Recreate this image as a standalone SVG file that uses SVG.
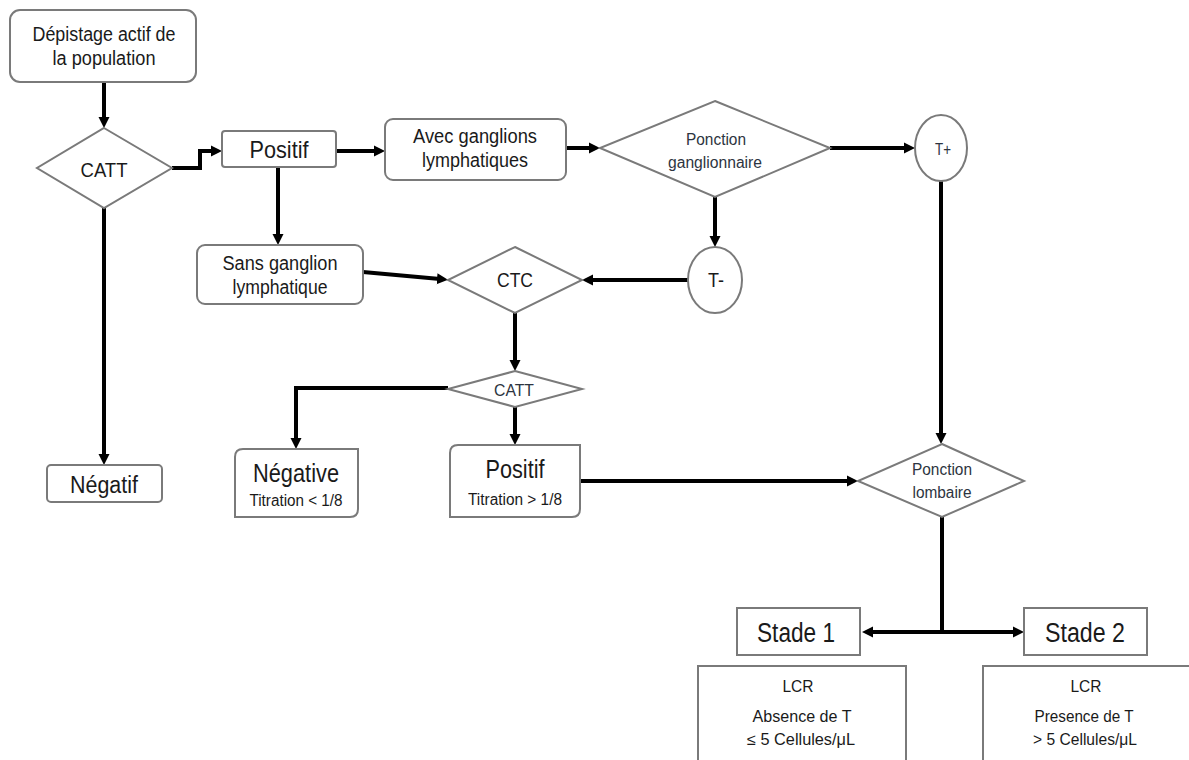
<svg xmlns="http://www.w3.org/2000/svg" width="1189" height="760" viewBox="0 0 1189 760">
<style>
.box{fill:#fff;stroke:#7a7a7a;stroke-width:2}
.t{font-family:"Liberation Sans",Arial,sans-serif;fill:#1a1a1a;text-anchor:middle}
.tb{font-family:"Liberation Sans",Arial,sans-serif;fill:#2d3440;text-anchor:middle}
.c{fill:none;stroke:#000;stroke-width:4}
.ca{fill:none;stroke:#000;stroke-width:4;marker-end:url(#ah)}
</style>
<defs>
<marker id="ah" markerUnits="userSpaceOnUse" markerWidth="12" markerHeight="12" refX="3" refY="6" orient="auto">
<path d="M0,0.5 L11,6 L0,11.5 z" fill="#000"/>
</marker>
</defs>
<rect width="1189" height="760" fill="#fff"/>

<g id="connectors">
<path class="ca" d="M104,82 V120"/>
<path class="ca" d="M172,168 H200 V151 H214"/>
<path class="ca" d="M104,208 V457"/>
<path class="ca" d="M336,151 H377"/>
<path class="ca" d="M278,167 V237"/>
<path class="ca" d="M566,148 H592"/>
<path class="ca" d="M830,148 H907"/>
<path class="ca" d="M715,197 V239"/>
<path class="ca" d="M941,181 V436"/>
<path class="ca" d="M688,280 H590"/>
<path class="ca" d="M363,272 L440,279"/>
<path class="ca" d="M515,313 V363"/>
<path class="ca" d="M448,388 H296 V441"/>
<path class="ca" d="M515,407 V437"/>
<path class="ca" d="M580,481 H850"/>
<path class="c" d="M942,517 V632"/>
<path class="ca" d="M944,632 H870"/>
<path class="ca" d="M940,632 H1016"/>
</g>

<g id="depistage">
<rect class="box" x="10" y="10" width="186" height="72" rx="10"/>
<text class="t" x="104" y="41" font-size="20" textLength="143" lengthAdjust="spacingAndGlyphs">Dépistage actif de</text>
<text class="t" x="104" y="65" font-size="20" textLength="103" lengthAdjust="spacingAndGlyphs">la population</text>
</g>

<g id="catt1">
<polygon class="box" points="104,128 172,168 104,208 37,168"/>
<text class="t" x="104" y="177" font-size="20" textLength="47" lengthAdjust="spacingAndGlyphs">CATT</text>
</g>

<g id="positif1">
<rect class="box" x="222" y="131" width="114" height="36" rx="3"/>
<text class="t" x="279" y="158" font-size="24" textLength="59" lengthAdjust="spacingAndGlyphs">Positif</text>
</g>

<g id="negatif">
<rect class="box" x="47" y="465" width="115" height="37" rx="4"/>
<text class="t" x="104" y="493" font-size="23" textLength="68" lengthAdjust="spacingAndGlyphs">Négatif</text>
</g>

<g id="avec">
<rect class="box" x="385" y="119" width="181" height="61" rx="8"/>
<text class="t" x="475" y="143" font-size="20" textLength="124" lengthAdjust="spacingAndGlyphs">Avec ganglions</text>
<text class="t" x="475" y="167" font-size="20" textLength="106" lengthAdjust="spacingAndGlyphs">lymphatiques</text>
</g>

<g id="sans">
<rect class="box" x="197" y="245" width="166" height="59" rx="8"/>
<text class="t" x="280" y="270" font-size="20" textLength="115" lengthAdjust="spacingAndGlyphs">Sans ganglion</text>
<text class="t" x="280" y="294" font-size="20" textLength="95" lengthAdjust="spacingAndGlyphs">lymphatique</text>
</g>

<g id="ponction-ganglionnaire">
<polygon class="box" points="715,101 830,148 715,197 600,148"/>
<text class="tb" x="716" y="145" font-size="16" textLength="60" lengthAdjust="spacingAndGlyphs">Ponction</text>
<text class="tb" x="715" y="168" font-size="16" textLength="94" lengthAdjust="spacingAndGlyphs">ganglionnaire</text>
</g>

<g id="t-plus">
<ellipse class="box" cx="941" cy="148" rx="26" ry="33"/>
<text class="tb" x="943" y="155" font-size="16" textLength="16" lengthAdjust="spacingAndGlyphs">T+</text>
</g>

<g id="t-minus">
<ellipse class="box" cx="715" cy="280" rx="27" ry="33"/>
<text class="t" x="716" y="287" font-size="20" textLength="16" lengthAdjust="spacingAndGlyphs">T-</text>
</g>

<g id="ctc">
<polygon class="box" points="515,247 582,280 515,313 448,280"/>
<text class="t" x="515" y="287" font-size="20" textLength="36" lengthAdjust="spacingAndGlyphs">CTC</text>
</g>

<g id="catt2">
<polygon class="box" points="515,371 582,389 515,407 448,389"/>
<text class="tb" x="514" y="396" font-size="16" textLength="40" lengthAdjust="spacingAndGlyphs">CATT</text>
</g>

<g id="negative">
<path class="box" d="M243,449 H358 V509 Q358,517 350,517 H235 V457 Q235,449 243,449 Z"/>
<text class="t" x="296" y="482" font-size="25" textLength="86" lengthAdjust="spacingAndGlyphs">Négative</text>
<text class="t" x="296" y="506" font-size="16" textLength="93" lengthAdjust="spacingAndGlyphs">Titration &lt; 1/8</text>
</g>

<g id="positif2">
<path class="box" d="M458,445 H580 V509 Q580,517 572,517 H450 V453 Q450,445 458,445 Z"/>
<text class="t" x="515" y="478" font-size="25" textLength="59" lengthAdjust="spacingAndGlyphs">Positif</text>
<text class="t" x="515" y="505" font-size="16" textLength="94" lengthAdjust="spacingAndGlyphs">Titration &gt; 1/8</text>
</g>

<g id="ponction-lombaire">
<polygon class="box" points="942,444 1024,481 942,517 858,481"/>
<text class="tb" x="942" y="475" font-size="16" textLength="60" lengthAdjust="spacingAndGlyphs">Ponction</text>
<text class="tb" x="942" y="498" font-size="16" textLength="59" lengthAdjust="spacingAndGlyphs">lombaire</text>
</g>

<g id="stade1">
<rect class="box" x="737" y="608" width="123" height="47"/>
<text class="t" x="796" y="642" font-size="27" textLength="78" lengthAdjust="spacingAndGlyphs">Stade 1</text>
</g>

<g id="stade2">
<rect class="box" x="1024" y="608" width="123" height="47"/>
<text class="t" x="1085" y="642" font-size="27" textLength="80" lengthAdjust="spacingAndGlyphs">Stade 2</text>
</g>

<g id="lcr1">
<rect class="box" x="698" y="666" width="208" height="110"/>
<text class="t" x="798" y="692" font-size="16" textLength="31" lengthAdjust="spacingAndGlyphs">LCR</text>
<text class="t" x="802" y="722" font-size="16" textLength="99" lengthAdjust="spacingAndGlyphs">Absence de T</text>
<text class="t" x="801" y="745" font-size="16" textLength="108" lengthAdjust="spacingAndGlyphs">≤ 5 Cellules/μL</text>
</g>

<g id="lcr2">
<rect class="box" x="983" y="666" width="230" height="110"/>
<text class="t" x="1086" y="692" font-size="16" textLength="31" lengthAdjust="spacingAndGlyphs">LCR</text>
<text class="t" x="1084" y="722" font-size="16" textLength="99" lengthAdjust="spacingAndGlyphs">Presence de T</text>
<text class="t" x="1085" y="745" font-size="16" textLength="104" lengthAdjust="spacingAndGlyphs">&gt; 5 Cellules/μL</text>
</g>
</svg>
